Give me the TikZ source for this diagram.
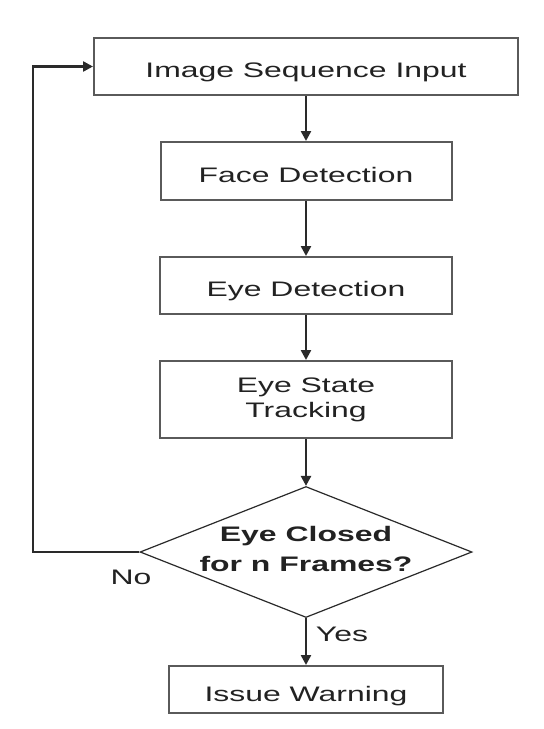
\documentclass[tikz,border=0pt]{standalone}
\usepackage{fontspec}
\usetikzlibrary{shapes.geometric,arrows.meta}
\newfontfamily\diagfont{Liberation Sans}[FakeStretch=1.52]
\definecolor{boxline}{HTML}{5A5A5A}
\definecolor{arrowcol}{HTML}{2A2A2A}
\definecolor{txt}{HTML}{222222}
\tikzset{
  stepbox/.style={draw=boxline, line width=2pt, rectangle, inner sep=0pt, text=txt,
    font=\diagfont\fontsize{21}{25}\selectfont, align=center},
  onebox/.style={stepbox, text height=22pt, text depth=0pt},
  decision/.style={diamond, draw=arrowcol, line width=1.2pt, inner sep=0pt},
  flow/.style={draw=arrowcol, line width=2.4pt, -{Triangle[length=10pt,width=10pt]}},
  lbl/.style={text=txt, font=\diagfont\fontsize{21}{25}\selectfont, text height=15pt, text depth=0pt, inner sep=0pt}
}
\begin{document}
\begin{tikzpicture}[x=1pt,y=-1pt]
\useasboundingbox[fill=white] (0,0) rectangle (544,729);

\node[onebox, minimum width=424pt, minimum height=57pt] (b1) at (306,66.5) {Image Sequence Input};
\node[onebox, minimum width=291pt, minimum height=58pt] (b2) at (306,171) {Face Detection};
\node[onebox, minimum width=292pt, minimum height=57pt] (b3) at (306,285.5) {Eye Detection};
\node[stepbox, minimum width=292pt, minimum height=77pt] (b4) at (306,399.5) {Eye State\\Tracking};
\node[decision, minimum width=332pt, minimum height=131pt,
  label={[name=dtext, inner sep=0pt, text=txt, align=center, yshift=3.5pt,
          font=\diagfont\bfseries\fontsize{21}{30}\selectfont]center:{Eye Closed\\for n Frames?}}]
  (d) at (306,552) {};
\node[onebox, minimum width=274pt, minimum height=47pt, text height=23pt] (b5) at (306,689.5) {Issue Warning};

\coordinate (fb) at (33,552);

\draw[flow] (b1) -- (b2);
\draw[flow] (b2) -- (b3);
\draw[flow] (b3) -- (b4);
\draw[flow] (b4) -- (d);
\draw[flow] (d) -- (b5);
\draw[flow] (d.west) -- (fb) |- (b1.west);

\node[lbl] (no) at (131,577) {No};
\node[lbl] (yes) at (342,634) {Yes};
\end{tikzpicture}
\end{document}
